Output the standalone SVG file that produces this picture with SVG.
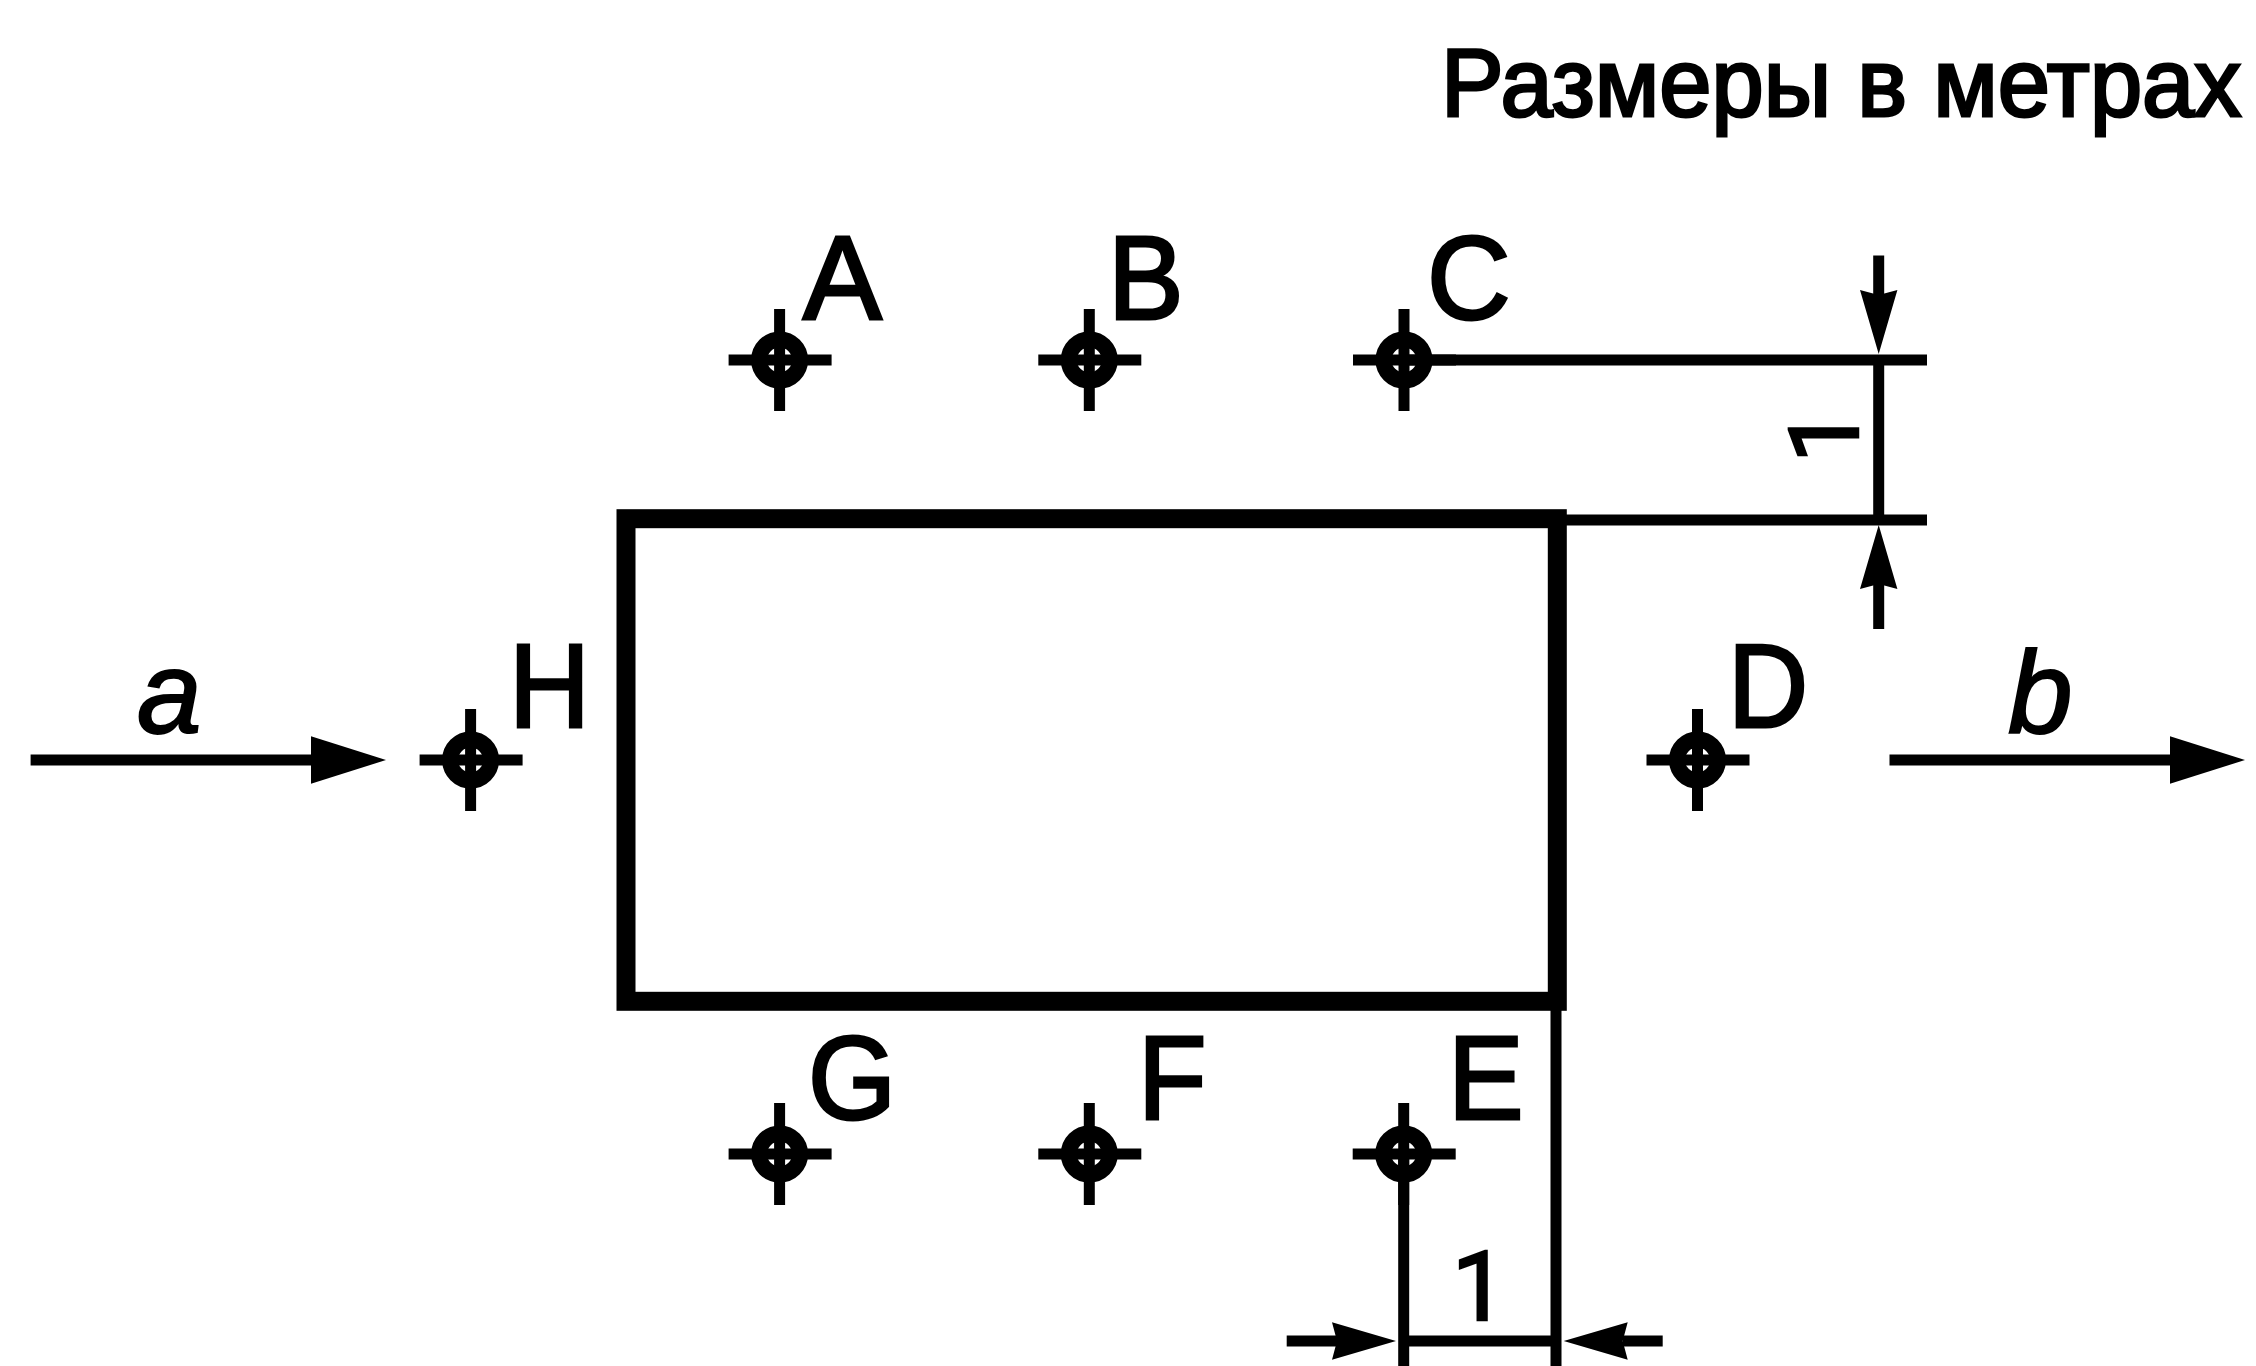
<svg xmlns="http://www.w3.org/2000/svg" width="2256" height="1366" viewBox="0 0 2256 1366">
<style>
text{font-family:"Liberation Sans",Arial,sans-serif;fill:#000;stroke:#000}
.l{font-size:118px;stroke-width:3}
.d{font-size:97px;stroke-width:3}
.n{font-family:Roboto,"Liberation Sans",sans-serif;font-size:97px;stroke-width:2.5}
.i{font-size:116px;font-style:italic;stroke-width:2}
.c line{stroke:#000;stroke-width:11;fill:none}
.m line{stroke:#000;stroke-width:11}
.m circle{stroke:#000;stroke-width:16;fill:none}
</style>
<defs>
<marker id="dim" markerUnits="userSpaceOnUse" markerWidth="70" markerHeight="40" viewBox="0 -20 70 40" refX="5" refY="0" orient="auto"><path d="M0,-18.7 L64,0 L0,18.7 L5,0 Z" fill="#000"/></marker>
<marker id="flow" markerUnits="userSpaceOnUse" markerWidth="76" markerHeight="50" viewBox="0 -25 76 50" refX="0" refY="0" orient="auto"><path d="M0,-23.7 L75,0 L0,23.7 Z" fill="#000"/></marker>
<g id="mk" class="m"><line x1="-51" y1="0" x2="52" y2="0"/><line x1="0" y1="-51" x2="0" y2="51"/><circle r="20.5"/></g>
</defs>
<rect width="2256" height="1366" fill="#fff"/>
<g id="connectors" class="c">
<line x1="1404" y1="360" x2="1927" y2="360"/>
<line x1="1566" y1="520" x2="1927" y2="520"/>
<line x1="1878.7" y1="360" x2="1878.7" y2="520"/>
<line x1="1878.7" y1="255.5" x2="1878.7" y2="295" marker-end="url(#dim)"/>
<line x1="1878.7" y1="629" x2="1878.7" y2="584" marker-end="url(#dim)"/>
<line x1="1403.7" y1="1154" x2="1403.7" y2="1366"/>
<line x1="1556" y1="1005" x2="1556" y2="1366"/>
<line x1="1403.7" y1="1341" x2="1556" y2="1341"/>
<line x1="1286.7" y1="1341" x2="1337" y2="1341" marker-end="url(#dim)"/>
<line x1="1662.7" y1="1341" x2="1622.7" y2="1341" marker-end="url(#dim)"/>
<line x1="30.6" y1="760" x2="311" y2="760" marker-end="url(#flow)"/>
<line x1="1889.5" y1="760" x2="2170" y2="760" marker-end="url(#flow)"/>
</g>
<g id="box"><rect x="626" y="518.7" width="931.3" height="482.6" fill="none" stroke="#000" stroke-width="19"/></g>
<g id="node-A"><use href="#mk" x="779.6" y="360"/><text class="l" x="803" y="319">A</text></g>
<g id="node-B"><use href="#mk" x="1089.3" y="360"/><text class="l" transform="translate(1108,319) scale(.96,1)">B</text></g>
<g id="node-C"><use href="#mk" x="1404" y="360"/><text class="l" transform="translate(1427,319) scale(.98,1)">C</text></g>
<g id="node-D"><use href="#mk" x="1697.5" y="760"/><text class="l" transform="translate(1728,726.5) scale(.94,1)">D</text></g>
<g id="node-E"><use href="#mk" x="1403.7" y="1154"/><text class="l" transform="translate(1448,1119) scale(.96,1)">E</text></g>
<g id="node-F"><use href="#mk" x="1089.3" y="1154"/><text class="l" transform="translate(1138,1119) scale(.95,1)">F</text></g>
<g id="node-G"><use href="#mk" x="779.6" y="1154"/><text class="l" transform="translate(808,1119) scale(.96,1)">G</text></g>
<g id="node-H"><use href="#mk" x="470.6" y="760"/><text class="l" transform="translate(509,726.5) scale(.95,1)">H</text></g>
<text class="i" x="137" y="733">a</text>
<text class="i" x="2008" y="733">b</text>
<text class="d" transform="translate(1441,116) scale(.968,1)">Размеры в метрах</text>
<text class="n" transform="translate(1858,463) rotate(-90)">1</text>
<text class="n" x="1452" y="1320">1</text>
</svg>
